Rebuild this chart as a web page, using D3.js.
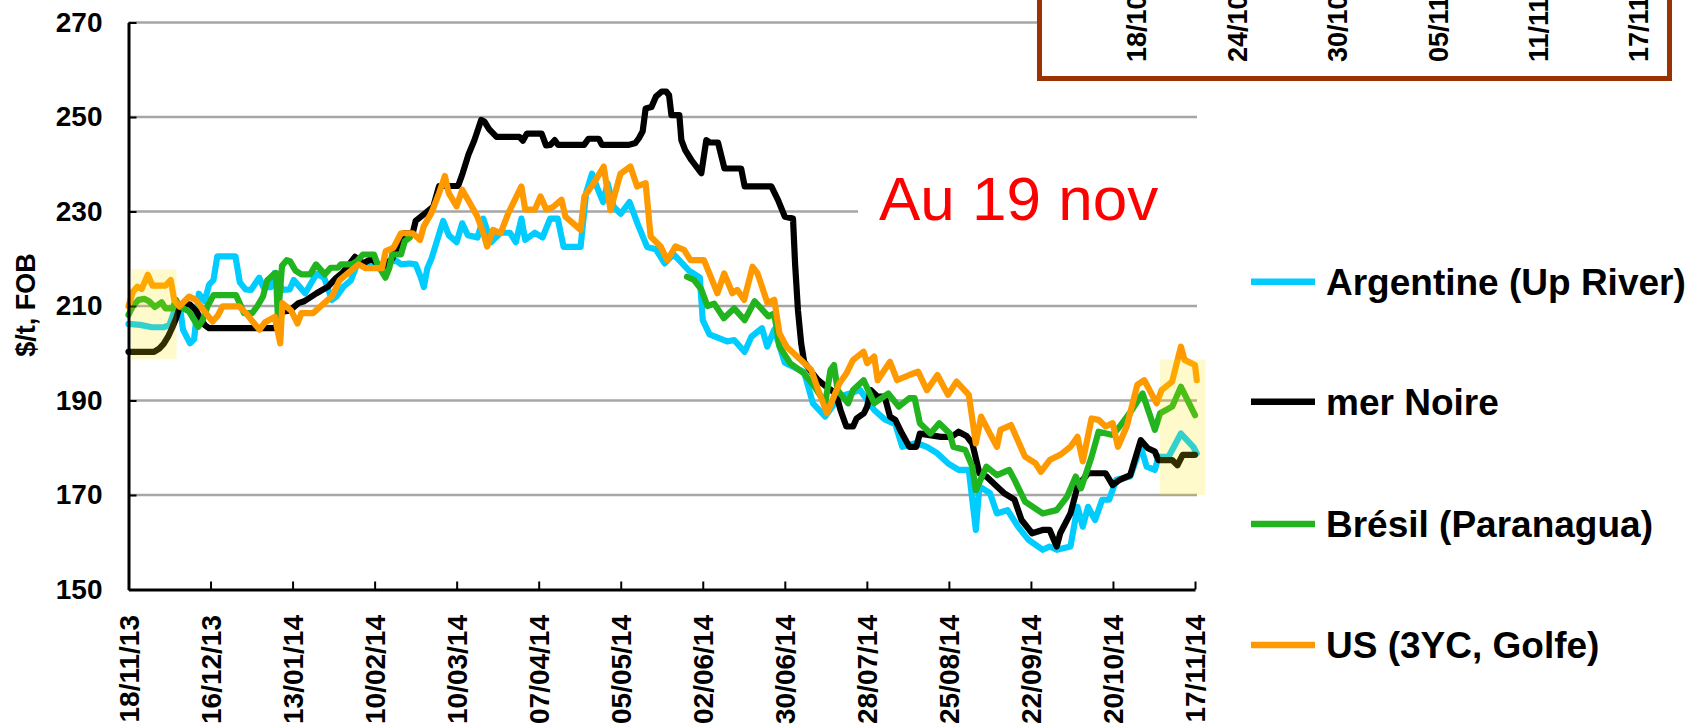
<!DOCTYPE html>
<meta charset="utf-8">
<style>
body { margin: 0; background: #fff; }
svg { font-family: "Liberation Sans", Arial, sans-serif; }
.axis path, .axis line { stroke: #000; stroke-width: 3; }
.axis .tick line { stroke-width: 2; }
.yaxis text { font: bold 28px "Liberation Sans", Arial, sans-serif; fill: #000; }
.xaxis text { font: bold 28px "Liberation Sans", Arial, sans-serif; fill: #000; }
.grid { stroke: #a6a6a6; stroke-width: 2.5; }
.series { fill: none; stroke-width: 6.2; stroke-linejoin: round; stroke-linecap: round; }
.legend text { font: bold 37px "Liberation Sans", Arial, sans-serif; fill: #000; }
.inset text { font: bold 27px "Liberation Sans", Arial, sans-serif; fill: #000; }
</style>
<body>
<script src="https://d3js.org/d3.v7.min.js"></script>
<script>
var w = 1691,
    h = 725;

// x values: days since 18/11/13, y values: $/t FOB
var yTicks = [150, 170, 190, 210, 230, 250, 270];
var tickDays = [0, 28, 56, 84, 112, 140, 168, 196, 224, 252, 280, 308, 336, 364];
var seriesNames = ["Argentine (Up River)", "mer Noire", "Brésil (Paranagua)", "US (3YC, Golfe)"];
var seriesColors = ["#00ccff", "#000000", "#21b41e", "#ff9900"];

var argentine = [[0,206.2],[4,206],[8,205.5],[12,205.5],[14,206],[16,209.5],[17.5,210],[18.6,205],[21,202.1],[22.4,203],
  [24,212.6],[26,211],[27.5,214.5],[29,215.5],[30.3,220.5],[36.5,220.5],[38,215],[40,213.5],[41.8,213.4],[44.6,216],
  [46,214],[48.6,214],[49.9,217],[52.5,213.4],[55,213.5],[56.4,215.5],[58.5,214],[60.3,212.7],[62,214.5],[64.2,216.8],
  [66.8,216],[69.4,211.3],[71,212],[73.4,214.1],[75.9,215.4],[78,218.8],[82,218.5],[86.5,218.8],[88,219.5],[91.6,219.5],
  [93,218.8],[96,219],[98,218.8],[99.8,216],[100.8,214],[102,218],[103.4,220],[105.4,224],[107.4,228],[109.3,225],
  [112,223.5],[113.9,227.5],[115.8,225],[119.1,224.5],[121.1,228.5],[123.7,223.5],[127,225.5],[130.2,225.5],[132.2,223.5],
  [134.1,228.5],[135.4,224],[138.7,225.5],[141.3,224.5],[143.9,228.5],[146.5,228.5],[148.5,222.5],[154.3,222.5],[156.2,234],
  [158.2,238],[160,235],[162,232],[163.5,236],[165.6,231],[168,229.5],[171,232],[174,227],[177,222.5],[180,222],[183,219],
  [186,221],[191.3,217.5],[195,216],[196,207],[198.3,204],[204.3,202.5],[206.7,202.8],[210.3,200.3],[212.6,203.5],
  [216.2,205.3],[218,201.4],[220.4,205],[224,198],[230.6,196],[233.6,189.4],[237.8,186.6],[242.6,190.8],[246.2,191.5],
  [249.7,192.2],[254.5,188],[258.1,186],[261.7,185],[264.1,180.2],[268.9,181],[272.5,180.2],[276.1,178.8],[279.7,176.7],
  [283.3,175.3],[286.8,175.3],[289.2,162.6],[290.4,171.8],[294,170.4],[296.4,166.1],[300,166.8],[303.6,163.3],[307.2,160.5],
  [312,158.4],[314.4,159.1],[316.8,158.4],[321.5,159.1],[323.9,167.5],[325.7,163.3],[327.5,167.5],[329.9,164.7],[332.3,169],
  [334.7,169],[337.1,173.2],[341.9,173.9],[345.5,180.2],[347.5,176],[350.3,175.3],[351.5,178.1],[355,178.1],[359.2,183],
  [363.4,180.2],[364.6,178.8]];

var merNoire = [[0,200.3],[8.7,200.3],[10.5,201],[12,202],[13.5,203.5],[15,205.5],[16.3,207.5],[17.3,209.5],[19,210.5],
  [21,210.3],[23,209],[24.5,207.5],[26,206],[27.5,205.3],[49.9,205.3],[51,206.5],[52.5,208.8],[55,209],[58,210.6],[60,211],
  [64.2,212.7],[68.1,214.1],[70.8,215.9],[73,217],[77.3,220.4],[80,219],[83,220],[86.5,218],[90,220],[92,222.8],[94,225.4],
  [97,225.4],[98,228],[101,229.5],[104,231],[106,235.4],[112.5,235.4],[114,238],[116,242],[118,245],[120.4,249.4],[121.5,249],
  [123,247.5],[125.6,245.8],[133.4,245.8],[134.6,245],[136,246.5],[141,246.5],[142.5,244],[144,244.1],[145.5,245.1],
  [146.6,244.1],[155.5,244.1],[157,245.4],[160.5,245.4],[161.6,244.1],[170.8,244.1],[173,244.5],[174.2,245.5],[175.5,247],
  [176.5,251.8],[178.5,252.1],[180,254.3],[182,255.4],[183.5,255.4],[184.5,254.6],[185.3,250.4],[188,250.4],[188.7,245.1],
  [190,243],[192.1,240.9],[195.5,238.1],[197.2,245.1],[198.5,244.6],[201.2,244.6],[203.4,239.1],[209.1,239.1],[210.3,235.3],
  [219.4,235.3],[221.7,232.4],[224,228.9],[226.8,228.5],[227.5,219],[228.5,209],[229.6,202],[230.6,198.2],[233,196.1],
  [235.4,194.3],[238,193],[241.4,191.5],[243,188],[245,184.5],[247.3,184.5],[248.5,186.2],[251,187.3],[252.1,188.7],
  [253.3,192.2],[255.7,190.8],[258.1,190.8],[259.9,186.6],[261.7,185.9],[264,183],[266.5,180.2],[268.9,180.2],[270.1,183],
  [277.3,182.3],[280.9,182.3],[283.3,183.4],[286,182.5],[288,180.9],[290.4,174.6],[292.8,173.9],[296.4,171.8],[298.8,170.4],
  [302.4,169],[304.8,164.7],[308.4,161.9],[312,162.6],[314.4,162.6],[316.8,159.1],[318,161.9],[321.5,166.1],[323.9,171.8],
  [327.5,174.6],[333.5,174.6],[335.9,172.1],[338.3,173.2],[341.9,174.2],[345.5,181.6],[347.9,179.9],[350.3,179.2],
  [351.5,177.4],[356.2,177.4],[358,176.3],[359.8,178.5],[364,178.5]];

// null = no quote (gap in the series)
var bresil = [[0,208.1],[1.5,210],[3.4,211.3],[5.5,211.5],[7,211],[9,209.8],[11.3,210.8],[12.6,209.5],[15,209.5],
  [16.2,211.3],[17.3,210],[20.7,208.8],[23.8,205.6],[25.3,207],[27,210],[29,212.3],[36.7,212.3],[38,210.5],[39.4,208.5],
  [42.2,208.5],[44,210],[45.9,212],[47.3,215.4],[49.2,216.5],[50.3,217],[51,207.5],[52.4,218.5],[54,219.7],[55.1,219.5],
  [57,217.5],[59,216.7],[62,216.7],[64,218.8],[67,216.7],[69,218.1],[71.5,218.1],[72.5,218.8],[76,218.8],[78,219.5],
  [80,220.9],[83.8,220.9],[85,218.8],[87.7,216],[89,218],[90,220.9],[93,220.9],[94.3,223.7],[96,224.5],[140,null],
  [190.6,216.2],[193,215.5],[195.5,213.5],[197.6,210],[199.9,210.5],[203.2,207.4],[206.7,209.5],[210.3,207],[213.7,211],
  [218.4,207.8],[220.4,208.4],[222.2,201.4],[225.8,197.9],[230.6,195.7],[234.2,192.9],[237.8,189.4],[239.6,196.5],
  [240.8,197.5],[242,192.2],[245.6,189.4],[247.3,192.2],[250.9,194.3],[254.5,189.4],[259.3,191.5],[262.9,188.7],
  [266.5,190.5],[268.3,190.5],[270.1,185.2],[273.7,183],[276.7,185.2],[280.3,183],[281.5,180.2],[285.6,179.5],[288,176],
  [289.2,171],[292.8,176],[296.4,174.2],[300.6,175.3],[302.4,173.2],[306,168.6],[312,166.1],[316.8,166.8],[320.3,169.6],
  [323.3,173.9],[325.1,171.4],[328.7,178.1],[331.1,183.4],[335.9,182.7],[338.3,184.5],[342.5,188],[346.1,191.5],
  [350.3,183.8],[352.1,187.3],[356.2,188.7],[359.2,192.9],[364,186.9]];

var us = [[0,209.9],[1.5,213],[3,214.1],[4.5,213.6],[6.6,216.6],[8.2,214.3],[12.6,214.3],[14.4,215.5],[15.6,211.3],
  [17.3,209.9],[20.7,212],[23,211.3],[24.5,210],[26.4,208.5],[28.7,206.7],[30.5,208],[32.1,209.9],[37.8,209.9],[40.1,208.5],
  [42,207],[44.7,205],[46.5,206.5],[49.9,207.7],[51.8,202.1],[52.5,210.6],[55.5,209],[57.7,206.3],[59,208.5],[63,208.5],
  [65.5,209.9],[68,211.3],[69.4,212],[72.1,215.5],[75,217],[78.6,218.8],[81,218],[86.5,218],[87.8,221.6],[90.4,222.3],
  [93,225.4],[97,225.4],[99.5,224],[100.8,226.9],[103.4,229.7],[106,233.9],[108,237.5],[109.3,233.9],[112,231.1],
  [113.9,234.6],[116.5,231.8],[119.1,228.9],[121.1,225.4],[122.4,222.6],[124.4,226.1],[127,225.4],[129.6,229.6],
  [134.1,235.3],[135.4,230.4],[138.7,230.4],[140.6,233.2],[142.6,230.4],[145,231],[147.8,232.5],[149.1,228.9],[154.3,226.1],
  [155.6,233.2],[158.8,236],[162.2,239.5],[164.5,230.3],[167.9,238],[171.3,239.5],[173.6,235.3],[176.5,236],[178.2,224.7],
  [181.6,222.6],[183.9,219.7],[186.7,222.6],[189.6,221.9],[191.8,219.7],[196.4,219.7],[198.7,216.2],[201,212.7],[203.3,216.9],
  [206.1,212.7],[207.8,213.4],[210.1,211.3],[213,218.3],[214.7,216.9],[218.1,210.6],[220.4,211.3],[222.2,204.2],[224.6,201.4],
  [228.2,199.3],[233,196.5],[235.4,192.2],[238.4,187.3],[242.6,193.6],[245,195.7],[247.3,198.6],[250.9,200.3],[252.1,197.9],
  [254.5,199.3],[255.7,194.3],[259.9,198.2],[262.3,194.3],[266.5,195.4],[269.5,196.1],[272.5,192.2],[276.1,195.4],
  [279.7,191.2],[282.6,194],[286.8,191.2],[289.2,180.9],[291,186.6],[294,183],[296.4,180.2],[297.6,183.8],[301.2,184.8],
  [306,178.1],[309.6,176.7],[311.4,174.9],[314.4,177.4],[318,178.5],[321.5,180.2],[323.9,182.3],[325.7,177.1],[328.7,186.2],
  [331.1,185.9],[333.5,184.5],[335.9,185.2],[337.7,180.2],[340.7,184.5],[344.3,193.3],[346.7,194.3],[350.9,189.4],
  [352.6,192.2],[356.2,194],[359.2,201.4],[360.4,198.6],[364,197.5],[364.6,194.3]];

// highlighted periods: [day from, day to, value low, value high]
var highlights = [[0.8, 16.4, 198.7, 217.8], [352, 367.6, 170, 198.7]];

// zoomed inset (only its date axis is visible): days since 18/10/14
var insetDays = [0, 6, 12, 18, 24, 30];

var series = [argentine, merNoire, bresil, us];

var start = Date.UTC(2013, 10, 18);
function day(d) { return new Date(start + d * 864e5); }
var fmt = d3.utcFormat("%d/%m/%y");

var x = d3.scaleUtc().domain([day(0), day(364)]).range([128.5, 1195]),
    y = d3.scaleLinear().domain([150, 270]).range([589.5, 22.5]);

var svg = d3.select("body").append("svg")
    .attr("width", w)
    .attr("height", h);

/* gridlines */
svg.selectAll("line.grid")
    .data(yTicks.slice(1))
  .enter().append("line")
    .attr("class", "grid")
    .attr("x1", x.range()[0])
    .attr("x2", x.range()[1] + 2)
    .attr("y1", function(d) { return y(d); })
    .attr("y2", function(d) { return y(d); });

/* series */
var line = d3.line()
    .defined(function(d) { return d[1] != null; })
    .x(function(d) { return x(day(d[0])); })
    .y(function(d) { return y(d[1]); });

svg.selectAll("path.series")
    .data(series)
  .enter().append("path")
    .attr("class", "series")
    .attr("stroke", function(d, i) { return seriesColors[i]; })
    .attr("d", line);

/* axes */
svg.append("g")
    .attr("class", "axis yaxis")
    .attr("transform", "translate(" + x.range()[0] + ",0)")
    .call(d3.axisLeft(y).tickValues(yTicks).tickSizeInner(-8).tickSizeOuter(0).tickPadding(26));

var xa = svg.append("g")
    .attr("class", "axis xaxis")
    .attr("transform", "translate(0," + y(150) + ")")
    .call(d3.axisBottom(x).tickValues(tickDays.map(day)).tickSizeInner(-8).tickSizeOuter(0).tickFormat(fmt));
xa.selectAll("text")
    .attr("transform", "rotate(-90)")
    .attr("x", -25.5)
    .attr("y", 0)
    .attr("dy", "0.35em")
    .style("text-anchor", "end");

/* highlighted periods */
svg.selectAll("rect.hl")
    .data(highlights)
  .enter().append("rect")
    .attr("class", "hl")
    .attr("x", function(d) { return x(day(d[0])); })
    .attr("width", function(d) { return x(day(d[1])) - x(day(d[0])); })
    .attr("y", function(d) { return y(d[3]); })
    .attr("height", function(d) { return y(d[2]) - y(d[3]); })
    .attr("fill", "rgb(255,230,0)")
    .attr("fill-opacity", 0.2);

/* date note */
svg.append("rect")
    .attr("x", 858).attr("y", 165)
    .attr("width", 345).attr("height", 72)
    .attr("fill", "#fff");
svg.append("text")
    .attr("x", 879).attr("y", 220)
    .attr("fill", "#ff0000")
    .style("font-size", "62px")
    .text("Au 19 nov");

/* inset (cut by the top of the picture) */
var insetStart = Date.UTC(2014, 9, 18);
var xi = d3.scaleUtc()
    .domain([new Date(insetStart), new Date(insetStart + 30 * 864e5)])
    .range([1136.7, 1639]);
var inset = svg.append("g").attr("class", "inset");
inset.append("rect")
    .attr("x", 1039.5).attr("y", -20)
    .attr("width", 630).attr("height", 98.5)
    .attr("fill", "#fff")
    .attr("stroke", "#993300")
    .attr("stroke-width", 5);
inset.selectAll("text")
    .data(insetDays)
  .enter().append("text")
    .attr("transform", function(d) {
      return "translate(" + xi(new Date(insetStart + d * 864e5)) + ",62) rotate(-90)";
    })
    .attr("dy", "0.35em")
    .text(function(d) { return fmt(new Date(insetStart + d * 864e5)); });

/* legend */
var legend = svg.selectAll("g.legend")
    .data(seriesNames)
  .enter().append("g")
    .attr("class", "legend")
    .attr("transform", function(d, i) { return "translate(1251," + [281.7, 401.7, 524, 645][i] + ")"; });
legend.append("line")
    .attr("x2", 64)
    .attr("stroke", function(d, i) { return seriesColors[i]; })
    .attr("stroke-width", 6.5);
legend.append("text")
    .attr("x", 75)
    .attr("dy", "0.35em")
    .text(function(d) { return d; });

/* y title */
svg.append("text")
    .attr("transform", "translate(26,305) rotate(-90)")
    .attr("text-anchor", "middle")
    .attr("dy", "0.35em")
    .style("font", "bold 27px 'Liberation Sans', Arial, sans-serif")
    .text("$/t, FOB");
</script>
